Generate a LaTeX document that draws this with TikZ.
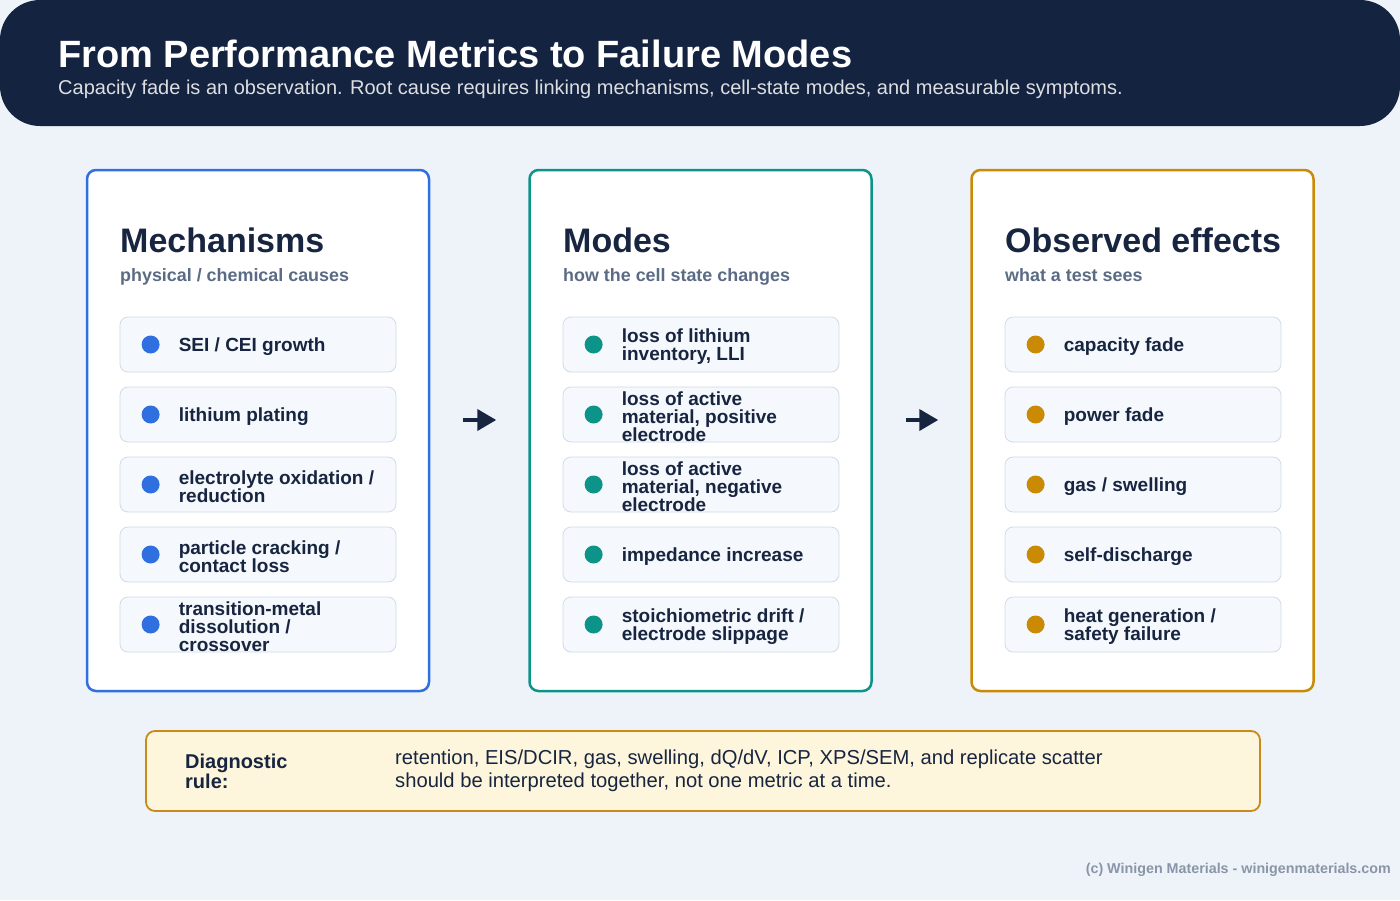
\documentclass[tikz,border=0pt]{standalone}
\usepackage{fontspec}
\setmainfont{Liberation Sans}
\usetikzlibrary{arrows.meta, positioning}

\definecolor{navy}{HTML}{14233F}
\definecolor{pagebg}{HTML}{EEF3FA}
\definecolor{ink}{HTML}{172540}
\definecolor{subgray}{HTML}{5B6B85}
\definecolor{footgray}{HTML}{8A95A8}
\definecolor{itemfill}{HTML}{F5F8FC}
\definecolor{itemline}{HTML}{CFDBEA}
\definecolor{mechblue}{HTML}{2F6FDF}
\definecolor{modeteal}{HTML}{0D9488}
\definecolor{effamber}{HTML}{CA8A04}
\definecolor{rulefill}{HTML}{FEF6DC}
\definecolor{ruleline}{HTML}{C98A1A}

\begin{document}
\begin{tikzpicture}[x=1pt, y=-1pt,
        card/.style={draw, line width=2.5pt, rounded corners=9pt, fill=white, minimum width=342pt, minimum height=521pt, inner sep=0pt},
        item/.style={draw=itemline, line width=0.8pt, fill=itemfill, rounded corners=8pt, minimum width=276pt, minimum height=55pt, inner sep=0pt},
        dot/.style={circle, inner sep=0pt, minimum size=18pt},
        itemtext/.style={anchor=west, align=left, text=ink, inner sep=0pt, font=\bfseries\fontsize{19}{18}\selectfont},
        cardhead/.style={anchor=base west, text=ink, inner sep=0pt, font=\bfseries\fontsize{34}{38}\selectfont},
        cardsub/.style={anchor=base west, text=subgray, inner sep=0pt, font=\bfseries\fontsize{17.9}{20}\selectfont},
        flow/.style={draw=ink, line width=4pt, -{Triangle[length=19pt, width=21pt]}}]

    % page and header
    \fill[pagebg] (0,0) rectangle (1400,900);
    \fill[navy, rounded corners=40pt] (0,0) rectangle (1400,126);
    \node (title) [anchor=base west, text=white, inner sep=0pt, font=\bfseries\fontsize{38}{42}\selectfont] at (58,67) {From Performance Metrics to Failure Modes};
    \node (subtitle) [anchor=base west, text=white!85!navy, inner sep=0pt, font=\fontsize{20}{22}\selectfont] at (58,94) {Capacity fade is an observation. Root cause requires linking mechanisms, cell-state modes, and measurable symptoms.};

    % three cards
    \node (mech) [card, draw=mechblue] at (258,430.5) {};
    \node (mode) [card, draw=modeteal] at (700.5,430.5) {};
    \node (eff) [card, draw=effamber] at (1142.5,430.5) {};

    \node (mechhead) [cardhead] at (120,252) {Mechanisms};
    \node (mechsub) [cardsub] at (120,281) {physical / chemical causes};
    \node (modehead) [cardhead] at (563,252) {Modes};
    \node (modesub) [cardsub] at (563,281) {how the cell state changes};
    \node (effhead) [cardhead] at (1005,252) {Observed effects};
    \node (effsub) [cardsub] at (1005,281) {what a test sees};

    % items
    \foreach \txt [count=\i] in {{SEI / CEI growth}, {lithium plating}, {electrolyte oxidation /\\reduction}, {particle cracking /\\contact loss}, {transition-metal\\dissolution /\\crossover}} {
        \node (m\i) [item] at (258,{344.5+70*(\i-1)}) {};
        \node (m\i dot) [dot, fill=mechblue] at ([xshift=31pt]m\i.west) {};
        \node (m\i txt) [itemtext] at ([xshift=59pt, yshift=-2pt]m\i.west) {\txt};
    }
    \foreach \txt [count=\i] in {{loss of lithium\\inventory, LLI}, {loss of active\\material, positive\\electrode}, {loss of active\\material, negative\\electrode}, {impedance increase}, {stoichiometric drift /\\electrode slippage}} {
        \node (o\i) [item] at (701,{344.5+70*(\i-1)}) {};
        \node (o\i dot) [dot, fill=modeteal] at ([xshift=31pt]o\i.west) {};
        \node (o\i txt) [itemtext] at ([xshift=59pt, yshift=-2pt]o\i.west) {\txt};
    }
    \foreach \txt [count=\i] in {{capacity fade}, {power fade}, {gas / swelling}, {self-discharge}, {heat generation /\\safety failure}} {
        \node (e\i) [item] at (1143,{344.5+70*(\i-1)}) {};
        \node (e\i dot) [dot, fill=effamber] at ([xshift=31pt]e\i.west) {};
        \node (e\i txt) [itemtext] at ([xshift=59pt, yshift=-2pt]e\i.west) {\txt};
    }

    % arrows between cards
    \draw[flow] ([xshift=33pt, yshift=10.5pt]mech.east) -- ([xshift=-32pt, yshift=10.5pt]mode.west);
    \draw[flow] ([xshift=33pt, yshift=10.5pt]mode.east) -- ([xshift=-32pt, yshift=10.5pt]eff.west);

    % diagnostic rule
    \node (rule) [draw=ruleline, line width=1.8pt, fill=rulefill, rounded corners=9pt, minimum width=1114pt, minimum height=80pt] at (703,771) {};
    \node (rulehead) [anchor=west, align=left, text=ink, inner sep=0pt, font=\bfseries\fontsize{20}{20}\selectfont] at (185,771) {Diagnostic\\rule:};
    \node (ruletxt) [anchor=west, align=left, text=ink, inner sep=0pt, font=\fontsize{20.2}{23}\selectfont] at (395,771) {retention, EIS/DCIR, gas, swelling, dQ/dV, ICP, XPS/SEM, and replicate scatter\\should be interpreted together, not one metric at a time.};

    % footer
    \node (foot) [anchor=base east, text=footgray, inner sep=0pt, font=\bfseries\fontsize{14.3}{16}\selectfont] at (1391,873) {(c) Winigen Materials - winigenmaterials.com};
\end{tikzpicture}
\end{document}
